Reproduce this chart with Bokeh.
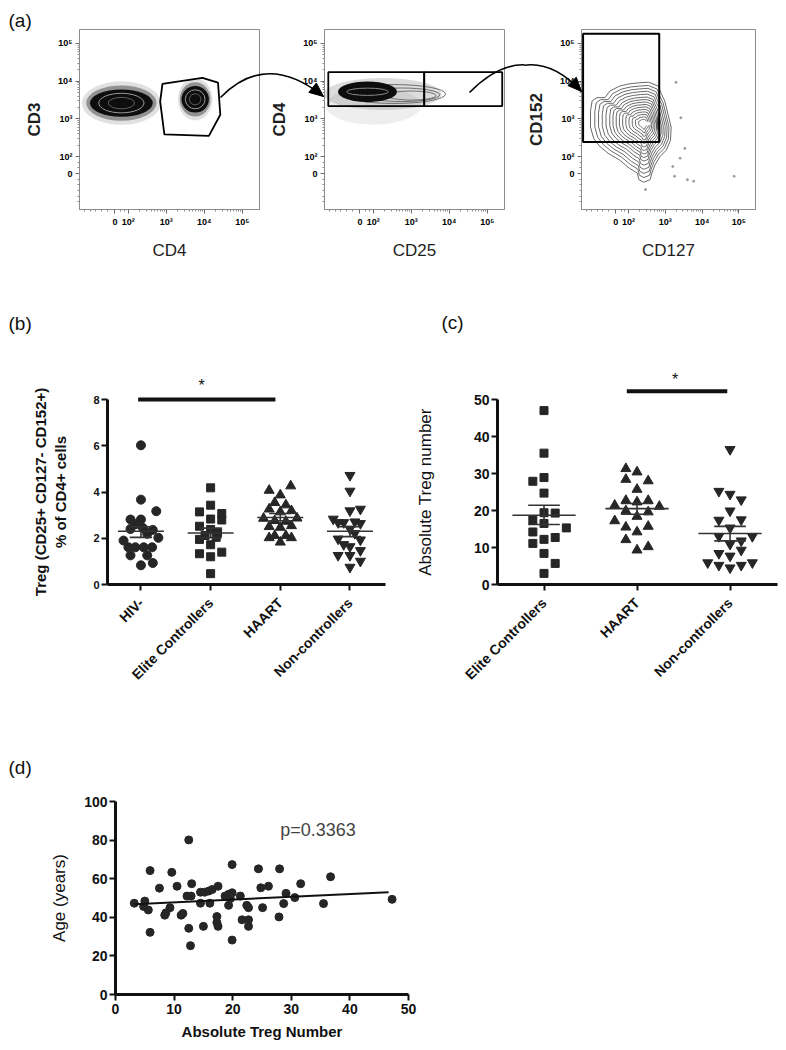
import math
from bokeh.plotting import figure
from bokeh.models import Range1d, FixedTicker
from bokeh.layouts import row, column
from bokeh.embed import file_html
from bokeh.resources import INLINE
from bokeh.core.properties import value

FONT = "Liberation Sans"
INK = "#1e1e1e"

# ---------------- DATA ----------------
# (a) flow cytometry, biexponential display scale (1 unit = 1 decade)
flow_tick_labels = ["0", "10²", "10³", "10⁴", "10⁵"]
flow_x_ticks = [1.65, 2, 3, 4, 5]
flow_y_ticks = [1.55, 2, 3, 4, 5]

# plot 1 (CD4 vs CD3): two populations (centre x, centre y, width, height)
a1_x = [1.82, 3.76]
a1_y = [3.42, 3.52]
a1_w = [1.65, 0.72]
a1_h = [0.72, 0.70]
a1_gate_x = [2.90, 3.95, 4.36, 4.42, 4.12, 2.95, 2.84]
a1_gate_y = [3.93, 4.09, 3.96, 3.11, 2.55, 2.59, 3.46]

# plot 2 (CD25 vs CD4)
a2_x = [1.85]
a2_y = [3.72]
a2_w = [1.55]
a2_h = [0.55]
a2_tail_x = [2.55, 2.75, 3.00]
a2_tail_y = [3.66, 3.64, 3.62]
a2_tail_w = [2.70, 2.00, 1.30]
a2_tail_h = [0.50, 0.36, 0.24]
a2_gate_left = [0.82, 3.34]
a2_gate_right = [3.34, 5.39]
a2_gate_bottom = [3.34, 3.34]
a2_gate_top = [4.24, 4.24]

# plot 3 (CD127 vs CD152): outer contour, centre, gate, stray events
a3_cont_x = [2.281, 2.544, 2.807, 2.895, 2.982, 3.070, 3.158, 3.140, 3.026, 2.851, 2.719, 2.632,
             2.588, 2.412, 2.281, 2.237, 2.018, 1.754, 1.447, 1.228, 1.053, 0.965, 0.965, 1.009,
             1.140, 1.360, 1.491, 1.754, 2.018]
a3_cont_y = [3.957, 3.974, 3.870, 3.652, 3.478, 3.130, 2.783, 2.435, 2.174, 2.000, 1.783, 1.565,
             1.391, 1.322, 1.391, 1.565, 1.696, 1.913, 2.087, 2.261, 2.478, 2.783, 3.217, 3.478,
             3.565, 3.565, 3.739, 3.870, 3.930]
a3_center = [2.42, 2.88]
a3_gate = [0.763, 2.833, 2.39, 5.26]
a3_dots_x = [3.29, 3.42, 3.40, 3.53, 3.20, 3.60, 3.77, 4.87, 2.46, 3.25]
a3_dots_y = [3.97, 3.03, 1.96, 2.22, 1.74, 1.39, 1.35, 1.48, 1.13, 1.48]

# (b) Treg % of CD4+ cells
b_categories = ["HIV-", "Elite Controllers", "HAART", "Non-controllers"]
b_hiv = [6.02, 3.67, 3.17, 2.81, 2.81, 2.61, 2.40, 2.44, 2.36, 2.19, 2.02, 1.90, 1.61, 1.61, 1.61,
         1.61, 1.26, 1.26, 0.83, 0.93]
b_hiv_dx = [0, 0, 0.22, -0.15, 0.0, -0.07, -0.15, 0.03, 0.17, 0.09, 0.25, -0.25, -0.18, -0.08, 0.04,
            0.16, -0.15, 0.09, 0, 0.17]
b_elite = [4.18, 3.43, 3.14, 3.07, 2.79, 2.83, 2.52, 2.38, 2.25, 2.12, 2.04, 1.95, 1.72, 1.40, 1.33,
           1.20, 0.47]
b_elite_dx = [0, 0, -0.16, 0.16, 0.16, 0, -0.16, 0, 0.10, -0.08, 0.08, -0.16, 0, 0.16, -0.16, 0, 0]
b_haart = [4.26, 4.07, 3.87, 3.54, 3.44, 3.26, 3.19, 3.14, 2.86, 2.87, 2.76, 2.73, 2.50, 2.47, 2.54,
           2.11, 2.02, 2.11, 2.02, 1.83]
b_haart_dx = [0.15, -0.16, 0, -0.08, 0.08, -0.16, 0.16, 0, -0.24, 0.24, -0.08, 0.08, -0.16, 0, 0.16,
              -0.08, -0.16, 0.08, 0.16, 0]
b_non = [4.72, 4.04, 3.19, 3.26, 2.83, 2.68, 2.68, 2.71, 2.64, 2.40, 2.21, 1.97, 1.93, 1.73, 1.64,
         1.26, 1.26, 1.47, 1.01, 0.75]
b_non_dx = [0, 0, 0, 0.15, -0.24, -0.17, -0.09, 0.07, 0.15, 0, 0.07, -0.17, 0.15, -0.09, 0.0,
            -0.17, 0, 0.15, 0.15, 0]
b_mean = [2.30, 2.23, 2.90, 2.30]
b_sem_lo = [2.04, 2.02, 2.76, 2.07]
b_sem_hi = [2.50, 2.44, 3.07, 2.50]

# (c) absolute Treg number
c_categories = ["Elite Controllers", "HAART", "Non-controllers"]
c_elite = [47.0, 35.5, 27.9, 28.9, 24.7, 19.4, 19.3, 17.4, 16.5, 15.3, 14.2, 12.7, 12.2, 11.1, 8.4,
           5.7, 3.0]
c_elite_dx = [0, 0, -0.12, 0, 0, 0, 0.12, -0.12, 0, 0.24, -0.12, 0.12, 0, -0.12, 0, 0.12, 0]
c_haart = [31.3, 30.4, 28.4, 28.0, 25.7, 22.7, 22.3, 22.7, 21.4, 21.1, 19.9, 19.6, 18.4, 17.2, 15.5,
           15.7, 14.2, 12.1, 9.3, 10.2]
c_haart_dx = [-0.12, 0, -0.12, 0.12, 0, -0.12, 0, 0.12, -0.24, 0.24, -0.12, 0.12, 0, -0.24, -0.12,
              0.12, 0, -0.12, 0, 0.12]
c_non = [36.5, 25.2, 24.4, 22.9, 19.9, 17.4, 17.5, 15.3, 13.0, 13.0, 11.8, 10.9, 9.3, 8.4, 7.7, 5.9,
         5.2, 4.5, 5.2, 5.9]
c_non_dx = [0, -0.12, 0, 0.12, 0, -0.12, 0.12, 0, -0.12, 0.24, 0.12, 0, 0.12, -0.12, 0, -0.24,
            -0.12, 0, 0.12, 0.24]
c_mean = [18.7, 20.5, 13.8]
c_sem_lo = [16.2, 19.0, 11.8]
c_sem_hi = [21.4, 21.9, 15.7]

# (d) age vs absolute Treg number
d_treg = [3.2, 5.0, 4.8, 5.6, 5.9, 5.9, 7.5, 9.3, 8.4, 8.6, 9.6, 10.5, 11.2, 11.5, 12.2, 12.9, 12.5,
          13.0, 12.5, 12.8, 14.5, 15.2, 15.9, 16.5, 14.5, 16.1, 15.0, 17.5, 17.3, 17.3, 17.5, 19.9,
          18.7, 19.3, 19.9, 19.6, 19.3, 19.9, 21.3, 22.4, 22.7, 21.6, 22.7, 22.7, 24.4, 24.8, 26.1,
          25.1, 28.0, 27.9, 29.1, 28.7, 30.6, 31.6, 35.5, 36.7, 47.2]
d_age = [47.3, 48.4, 45.6, 43.8, 64.2, 32.2, 55.1, 45.0, 41.1, 42.3, 63.3, 56.1, 41.1, 42.0, 51.0,
         51.0, 80.1, 57.4, 34.3, 25.3, 53.0, 53.0, 53.6, 54.4, 47.3, 47.3, 35.3, 56.1, 40.4, 37.3,
         35.3, 67.3, 51.0, 51.9, 52.7, 49.7, 46.2, 28.2, 51.0, 46.2, 45.0, 38.7, 38.7, 35.3, 65.1,
         55.3, 56.1, 45.0, 65.1, 40.2, 52.4, 47.1, 50.2, 57.4, 47.1, 61.0, 49.3]
d_fit_x = [3.2, 46.6]
d_fit_y = [46.8, 53.0]
d_p_text = "p=0.3363"


# ---------------- helpers ----------------
# all geometry below is in layout pixels (layout origin = top-left of the root column)
class Geo:
    def __init__(self, fx0, fx1, fy0, fy1, xr, yr):
        self.fx0, self.fx1, self.fy0, self.fy1, self.xr, self.yr = fx0, fx1, fy0, fy1, xr, yr

    def x(self, px):
        return self.xr[0] + (px - self.fx0) * (self.xr[1] - self.xr[0]) / (self.fx1 - self.fx0)

    def y(self, py):
        return self.yr[0] + (self.fy1 - py) * (self.yr[1] - self.yr[0]) / (self.fy1 - self.fy0)


def base_fig(cx0, cy0, w, h, geo):
    p = figure(width=w, height=h, x_range=Range1d(*geo.xr), y_range=Range1d(*geo.yr),
               output_backend="svg", toolbar_location=None,
               min_border_left=geo.fx0 - cx0, min_border_right=cx0 + w - geo.fx1,
               min_border_top=geo.fy0 - cy0, min_border_bottom=cy0 + h - geo.fy1)
    p.xgrid.visible = False
    p.ygrid.visible = False
    p.outline_line_color = None
    p.background_fill_color = "white"
    p.border_fill_color = "white"
    return p


def free_text(p, x, y, txt, size, color="#111", align="left", baseline="top", style="normal"):
    p.text(x=[x], y=[y], text=[txt], text_font=value(FONT), text_font_size=value(size),
           text_color=color, text_align=align, text_baseline=baseline,
           text_font_style=style, level="overlay")


def panel_letter(p, geo, px, py, txt):
    free_text(p, geo.x(px), geo.y(py), txt, "19px")


minor_log = [k + math.log10(m) for k in (2, 3, 4) for m in range(2, 10)]
flow_minor_x = [0.85, 1.0, 1.15, 1.3, 1.45, 1.8, 1.9] + minor_log
flow_minor_y = [0.8, 0.95, 1.1, 1.25, 1.4, 1.7, 1.85] + minor_log

FLOW_XR = (0.72, 5.45)
FLOW_YR = (0.60, 5.37)
ROW_A_Y, ROW_A_H = 0, 292


def flow_fig(cx0, w, fx0, xlabel, ylabel):
    geo = Geo(fx0, fx0 + 180, 21, 201, FLOW_XR, FLOW_YR)
    p = base_fig(cx0, ROW_A_Y, w, ROW_A_H, geo)
    p.outline_line_color = "#8c8c8c"
    p.outline_line_width = 1
    for ax, ticks, minor in ((p.xaxis[0], flow_x_ticks, flow_minor_x), (p.yaxis[0], flow_y_ticks, flow_minor_y)):
        ax.ticker = FixedTicker(ticks=ticks, minor_ticks=minor)
        ax.major_label_overrides = {t: s for t, s in zip(ticks, flow_tick_labels)}
        ax.axis_line_color = "#8c8c8c"
        ax.major_tick_line_color = "#6c6c6c"
        ax.minor_tick_line_color = "#8c8c8c"
        ax.major_tick_out = 4
        ax.major_tick_in = 0
        ax.minor_tick_out = 2
        ax.minor_tick_in = 0
        ax.major_label_text_font = FONT
        ax.major_label_text_font_size = "9px"
        ax.major_label_text_font_style = "bold"
        ax.major_label_text_color = "#000"
        ax.major_label_standoff = 3
        ax.axis_label_text_font = FONT
        ax.axis_label_text_color = INK
    p.xaxis.axis_label = xlabel
    p.xaxis.axis_label_text_font_size = "17px"
    p.xaxis.axis_label_text_font_style = "normal"
    p.xaxis.axis_label_standoff = 11
    p.yaxis.axis_label = ylabel
    p.yaxis.axis_label_text_font_size = "17px"
    p.yaxis.axis_label_text_font_style = "bold"
    p.yaxis.axis_label_standoff = 11
    return p, geo


# ---------------- (a) ----------------
pa1, ga1 = flow_fig(0, 254, 71, "CD4", "CD3")
pa2, ga2 = flow_fig(254, 262, 316, "CD25", "CD4")
pa3, ga3 = flow_fig(516, 254, 567, "CD127", "CD152")

# plot 1 populations: speckled halo, black core, faint inner contours
pa1.ellipse(x=a1_x, y=a1_y, width=[w * 1.26 for w in a1_w], height=[h * 1.6 for h in a1_h],
            fill_color="#444", fill_alpha=0.16, line_color=None)
pa1.ellipse(x=a1_x, y=a1_y, width=[w * 1.12 for w in a1_w], height=[h * 1.3 for h in a1_h],
            fill_color="#333", fill_alpha=0.45, line_color=None)
pa1.ellipse(x=a1_x, y=a1_y, width=a1_w, height=a1_h, fill_color="#0d0d0d", line_color=None)
for f, col in ((0.72, "#9a9a9a"), (0.42, "#5e5e5e")):
    pa1.ellipse(x=a1_x, y=a1_y, width=[w * f for w in a1_w], height=[h * f for h in a1_h],
                fill_color=None, line_color=col, line_width=1)
pa1.patch(a1_gate_x, a1_gate_y, fill_color=None, line_color="black", line_width=1.8)

# plot 2 population
pa2.ellipse(x=[2.0], y=[3.35], width=[2.5], height=[1.0], fill_color="#444", fill_alpha=0.09, line_color=None)
pa2.ellipse(x=[2.25], y=[3.66], width=[3.1], height=[0.85], fill_color="#444", fill_alpha=0.18, line_color=None)
pa2.ellipse(x=a2_tail_x, y=a2_tail_y, width=a2_tail_w, height=a2_tail_h, fill_color=None,
            line_color="#6e6e6e", line_width=1)
pa2.ellipse(x=a2_x, y=a2_y, width=a2_w, height=a2_h, fill_color="#0d0d0d", line_color=None)
pa2.ellipse(x=a2_x, y=a2_y, width=[w * 0.7 for w in a2_w], height=[h * 0.35 for h in a2_h],
            fill_color=None, line_color="#8a8a8a", line_width=1)
pa2.quad(left=a2_gate_left, right=a2_gate_right, bottom=a2_gate_bottom, top=a2_gate_top,
         fill_color=None, line_color="black", line_width=1.8)

# plot 3 nested contours
cx, cy = a3_center
ring_xs, ring_ys = [], []
for f in (1.0, 0.92, 0.85, 0.78, 0.71, 0.64, 0.58, 0.52, 0.46, 0.40, 0.34, 0.28, 0.22, 0.16, 0.1):
    ring_xs.append([cx + f * (x - cx) for x in a3_cont_x] + [cx + f * (a3_cont_x[0] - cx)])
    ring_ys.append([cy + f * (y - cy) for y in a3_cont_y] + [cy + f * (a3_cont_y[0] - cy)])
pa3.multi_line(ring_xs, ring_ys, line_color="#6a6a6a", line_width=1)
pa3.ellipse(x=[cx + 0.05], y=[cy], width=[0.26], height=[0.11], fill_color="white", line_color=None)
pa3.ellipse(x=[2.80], y=[2.88], width=[0.1], height=[0.35], fill_color="#333", fill_alpha=0.7, line_color=None)
pa3.scatter(a3_dots_x, a3_dots_y, size=2, color="#999")
pa3.quad(left=[a3_gate[0]], right=[a3_gate[1]], bottom=[a3_gate[2]], top=[a3_gate[3]],
         fill_color=None, line_color="black", line_width=2)

# connecting arrows (layout pixel geometry)
arrows = [((212, 89), (258, 42), (315, 88), [pa1, pa2], [ga1, ga2], pa2, ga2),
          ((461, 84), (515, 29), (567, 83), [pa2, pa3], [ga2, ga3], pa3, ga3)]
for p0, c, p2, figs, geos, hp, hg in arrows:
    for fp, fg in zip(figs, geos):
        fp.quadratic(x0=[fg.x(p0[0])], y0=[fg.y(p0[1])], x1=[fg.x(p2[0])], y1=[fg.y(p2[1])],
                     cx=[fg.x(c[0])], cy=[fg.y(c[1])], line_color="black", line_width=1.6,
                     level="overlay")
    dx, dy = p2[0] - c[0], p2[1] - c[1]
    n = math.hypot(dx, dy)
    ux, uy = dx / n, dy / n
    L, W = 14, 6
    bx, by = p2[0] - L * ux, p2[1] - L * uy
    hx = [p2[0], bx - W * uy, bx + W * uy]
    hy = [p2[1], by + W * ux, by - W * ux]
    hp.patch([hg.x(v) for v in hx], [hg.y(v) for v in hy], fill_color="black", line_color="black",
             level="overlay")

panel_letter(pa1, ga1, 0, 1, "(a)")


# ---------------- stats panel styling ----------------
def stat_axes(p, tick_size_x, tick_size_y):
    for ax in (p.xaxis[0], p.yaxis[0]):
        ax.axis_line_width = 3
        ax.axis_line_color = "#111"
        ax.major_tick_line_width = 2
        ax.major_tick_line_color = "#111"
        ax.major_tick_out = 6
        ax.major_tick_in = 0
        ax.minor_tick_out = 0
        ax.minor_tick_in = 0
        ax.major_label_text_font = FONT
        ax.major_label_text_font_style = "bold"
        ax.major_label_text_color = "#111"
        ax.axis_label_text_font = FONT
        ax.axis_label_text_color = "#111"
    p.xaxis.major_label_text_font_size = tick_size_x
    p.yaxis.major_label_text_font_size = tick_size_y
    p.yaxis.major_label_standoff = 2


def group_plot(p, groups, means, lo, hi, half_mean=0.33, half_cap=0.16):
    markers = {"circle": 9, "square": 8, "triangle": 10, "inverted_triangle": 10}
    for i, (vals, dxs, mk) in enumerate(groups):
        p.scatter([i + d for d in dxs], vals, marker=mk, size=markers[mk], color="#262626")
    cats = list(range(len(means)))
    p.segment(x0=[c - half_mean for c in cats], x1=[c + half_mean for c in cats], y0=means, y1=means,
              line_color="#333", line_width=1.6)
    p.segment(x0=cats, x1=cats, y0=lo, y1=hi, line_color="#333", line_width=1.6)
    p.segment(x0=[c - half_cap for c in cats], x1=[c + half_cap for c in cats], y0=lo, y1=lo,
              line_color="#333", line_width=1.6)
    p.segment(x0=[c - half_cap for c in cats], x1=[c + half_cap for c in cats], y0=hi, y1=hi,
              line_color="#333", line_width=1.6)


# ---------------- (b) ----------------
gb = Geo(99, 377, 390, 576, (-0.48, 3.51), (0, 8))
pb = base_fig(0, 292, 402, 445, gb)
stat_axes(pb, "14px", "11px")
pb.xaxis.ticker = FixedTicker(ticks=[0, 1, 2, 3], minor_ticks=[])
pb.xaxis.major_label_overrides = {i: s for i, s in enumerate(b_categories)}
pb.xaxis.major_label_orientation = math.pi / 4
pb.xaxis.major_label_standoff = 10
pb.yaxis.ticker = FixedTicker(ticks=[0, 2, 4, 6, 8], minor_ticks=[])
pb.yaxis.axis_label = "Treg (CD25+ CD127- CD152+)\n% of CD4+ cells"
pb.yaxis.axis_label_text_font_size = "15px"
pb.yaxis.axis_label_text_font_style = "bold"
pb.yaxis.axis_label_standoff = 21
group_plot(pb, [(b_hiv, b_hiv_dx, "circle"), (b_elite, b_elite_dx, "square"),
                (b_haart, b_haart_dx, "triangle"), (b_non, b_non_dx, "inverted_triangle")],
           b_mean, b_sem_lo, b_sem_hi)
pb.segment(x0=[-0.04], x1=[1.93], y0=[8], y1=[8], line_color="#111", line_width=4, level="overlay")
free_text(pb, 0.87, 8.62, "*", "16px", align="center", baseline="middle")
panel_letter(pb, gb, 0, 303, "(b)")

# ---------------- (c) ----------------
gc = Geo(489, 769, 391, 576, (-0.5, 2.51), (0, 50))
pc = base_fig(402, 292, 368, 445, gc)
stat_axes(pc, "14px", "14px")
pc.xaxis.ticker = FixedTicker(ticks=[0, 1, 2], minor_ticks=[])
pc.xaxis.major_label_overrides = {i: s for i, s in enumerate(c_categories)}
pc.xaxis.major_label_orientation = math.pi / 4
pc.xaxis.major_label_standoff = 10
pc.yaxis.ticker = FixedTicker(ticks=[0, 10, 20, 30, 40, 50], minor_ticks=[])
pc.yaxis.axis_label = "Absolute Treg number"
pc.yaxis.axis_label_text_font_size = "17px"
pc.yaxis.axis_label_text_font_style = "normal"
pc.yaxis.axis_label_standoff = 36
group_plot(pc, [(c_elite, c_elite_dx, "square"), (c_haart, c_haart_dx, "triangle"),
                (c_non, c_non_dx, "inverted_triangle")], c_mean, c_sem_lo, c_sem_hi,
           half_mean=0.34, half_cap=0.17)
pc.segment(x0=[0.89], x1=[1.97], y0=[52.2], y1=[52.2], line_color="#111", line_width=4, level="overlay")
free_text(pc, 1.41, 55.4, "*", "16px", align="center", baseline="middle")
panel_letter(pc, gc, 433, 303, "(c)")

# ---------------- (d) ----------------
gd = Geo(107, 400, 793, 988, (0, 50), (0, 100))
pd = base_fig(0, 737, 460, 297, gd)
stat_axes(pd, "14px", "14px")
pd.xaxis.ticker = FixedTicker(ticks=[0, 10, 20, 30, 40, 50], minor_ticks=[])
pd.yaxis.ticker = FixedTicker(ticks=[0, 20, 40, 60, 80, 100], minor_ticks=[])
pd.xaxis.major_label_standoff = 3
pd.xaxis.axis_label = "Absolute Treg Number"
pd.xaxis.axis_label_text_font_size = "15px"
pd.xaxis.axis_label_text_font_style = "bold"
pd.xaxis.axis_label_standoff = 6
pd.yaxis.axis_label = "Age (years)"
pd.yaxis.axis_label_text_font_size = "17px"
pd.yaxis.axis_label_text_font_style = "normal"
pd.yaxis.axis_label_standoff = 12
pd.scatter(d_treg, d_age, marker="circle", size=8, color="#262626")
pd.line(d_fit_x, d_fit_y, line_color="#111", line_width=2)
free_text(pd, 28.1, 85.0, d_p_text, "18px", color="#444", baseline="alphabetic")
panel_letter(pd, gd, 0, 748, "(d)")

layout = column(row(pa1, pa2, pa3), row(pb, pc), pd, margin=(8, 0, 0, 8))
open("out.html", "w").write(file_html(layout, INLINE))
